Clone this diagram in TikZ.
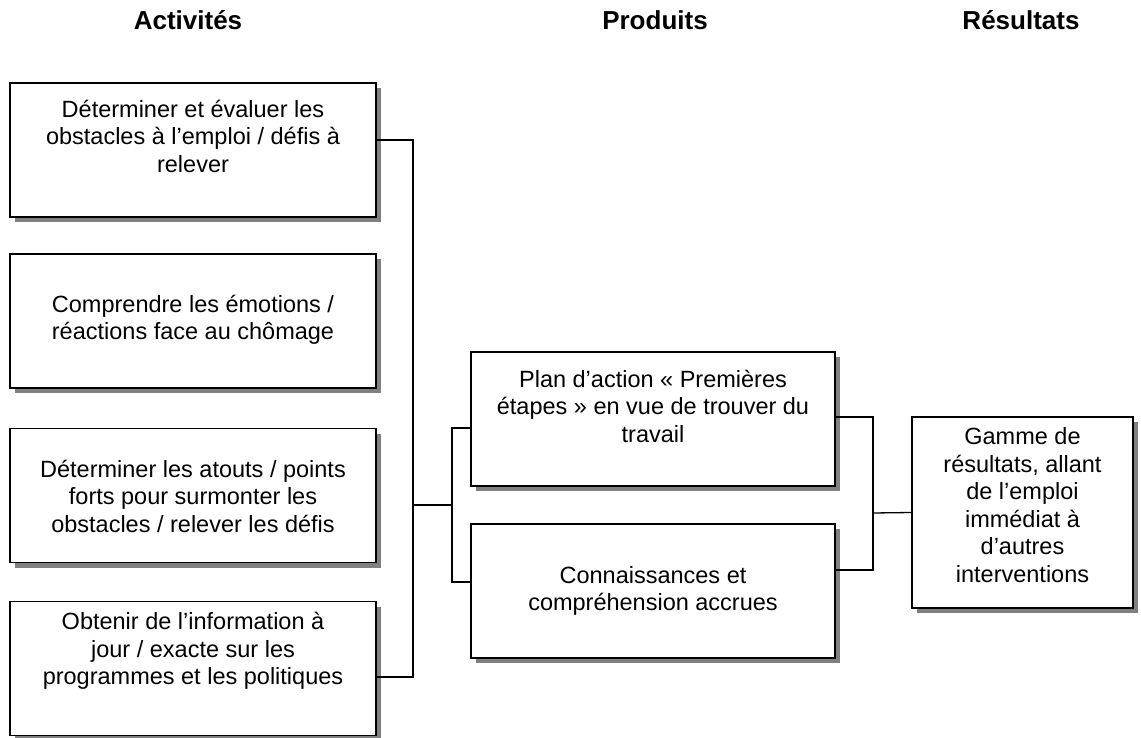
\documentclass[tikz,border=0pt]{standalone}
\usepackage{fontspec}
\setmainfont{Liberation Sans}
\usetikzlibrary{shadows}
\begin{document}
\begin{tikzpicture}[x=1pt,y=-1pt,
  box/.style={draw=black, line width=1.3pt, fill=white, rectangle, inner sep=0pt,
    drop shadow={shadow xshift=5pt, shadow yshift=-5pt, fill=black!50, opacity=1}},
  txt/.style={align=center, font=\fontsize{23.5}{27.5}\selectfont, inner sep=0pt},
  head/.style={font=\fontsize{26}{30}\selectfont\bfseries, inner sep=0pt, anchor=base},
  link/.style={draw=black, line width=1.3pt}]
\useasboundingbox (0,0) rectangle (1141,738);

% column headings
\node[head] (hA) at (188,29.5) {Activités};
\node[head] (hP) at (655,29.5) {Produits};
\node[head] (hR) at (1021,29.5) {Résultats};

% activity boxes
\node[box, minimum width=366pt, minimum height=134pt] (b1) at (193,150) {};
\node[box, minimum width=366pt, minimum height=134pt] (b2) at (193,321) {};
\node[box, minimum width=366pt, minimum height=134pt] (b3) at (193,495.5) {};
\node[box, minimum width=366pt, minimum height=134pt] (b4) at (193,668.5) {};
\node[txt] (t1) at (193,136) {Déterminer et évaluer les\\obstacles à l’emploi / défis à\\relever};
\node[txt] (t2) at (193,320) {Comprendre les émotions /\\réactions face au chômage};
\node[txt] (t3) at (193,496) {Déterminer les atouts / points\\forts pour surmonter les\\obstacles / relever les défis};
\node[txt] (t4) at (193,651) {Obtenir de l’information à\\jour / exacte sur les\\programmes et les politiques};

% product boxes
\node[box, minimum width=364pt, minimum height=134pt] (mA) at (653,419) {};
\node[box, minimum width=364pt, minimum height=134pt] (mB) at (653,591) {};
\node[txt] (tA) at (653,406) {Plan d’action « Premières\\étapes » en vue de trouver du\\travail};
\node[txt] (tB) at (653,591) {Connaissances et\\compréhension accrues};

% result box
\node[box, minimum width=221pt, minimum height=191pt] (r) at (1022.5,512.5) {};
\node[txt] (tR) at (1022.5,505) {Gamme de\\résultats, allant\\de l’emploi\\immédiat à\\d’autres\\interventions};

% connectors
\coordinate (busA) at (413,505);
\coordinate (busP) at (452,505);
\coordinate (busR) at (873,513);
\draw[link] ([yshift=10pt]b1.east) -| (busA) |- ([yshift=-8.5pt]b4.east);
\draw[link] (busA) -- (busP);
\draw[link] ([yshift=-9pt]mA.west) -| (busP) |- ([yshift=9pt]mB.west);
\draw[link] ([yshift=2pt]mA.east) -| (busR) |- ([yshift=21pt]mB.east);
\draw[link] (busR) -- (r.west);
\end{tikzpicture}
\end{document}
